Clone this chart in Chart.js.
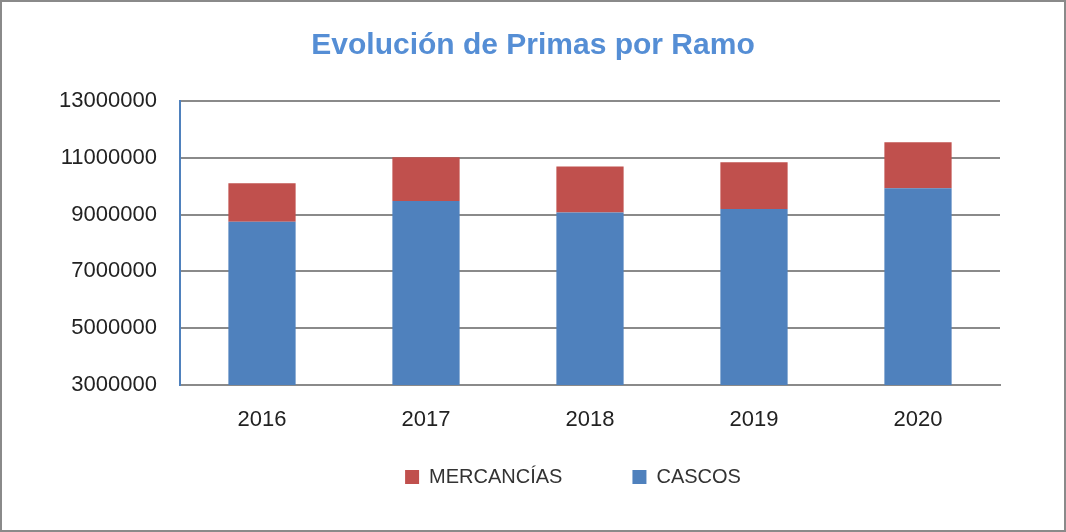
<!DOCTYPE html>
<html>
<head>
<meta charset="utf-8">
<script src="https://cdn.jsdelivr.net/npm/chart.js@4.4.0/dist/chart.umd.min.js"></script>
<style>
    body { margin: 0; background: #fff; }
    .frame {
        width: 1066px; height: 532px; box-sizing: border-box;
        border: 2px solid #8a8a8a; background: #fff;
    }
    canvas { display: block; }
</style>
</head>
<body>
<div class="frame">
    <canvas id="primasChart" width="1062" height="528"></canvas>
</div>
<script>
const years = ['2016', '2017', '2018', '2019', '2020'];
const cascos = [8750000, 9480000, 9070000, 9200000, 9930000];
const mercancias = [1350000, 1540000, 1620000, 1640000, 1620000];
const yTicks = [3000000, 5000000, 7000000, 9000000, 11000000, 13000000];

const sans = "'Liberation Sans Narrow', 'Arial Narrow', 'Liberation Sans', Arial, sans-serif";

// move title and legend to where the original has them
const boxShift = {
    id: 'boxShift',
    afterLayout(chart) {
        chart.titleBlock.left += 32;
        chart.titleBlock.right += 32;
        chart.legend.left += 72;
        chart.legend.right += 72;
        chart.legend.top -= 33;
        chart.legend.bottom -= 33;
    }
};

document.addEventListener('DOMContentLoaded', () => {
    const ctx = document.getElementById('primasChart').getContext('2d');
    new Chart(ctx, {
        type: 'bar',
        data: {
            labels: years,
            datasets: [{
                label: 'CASCOS',
                data: cascos,
                backgroundColor: '#4F81BD',
                barPercentage: 0.41,
                categoryPercentage: 1
            }, {
                label: 'MERCANCÍAS',
                data: mercancias,
                backgroundColor: '#C0504D',
                barPercentage: 0.41,
                categoryPercentage: 1
            }]
        },
        plugins: [boxShift],
        options: {
            responsive: false,
            animation: false,
            layout: {
                padding: { left: 0, right: 64, top: 0, bottom: 0 }
            },
            plugins: {
                title: {
                    display: true,
                    text: 'Evolución de Primas por Ramo',
                    color: '#558ED5',
                    font: { family: sans, size: 30, weight: 'bold' },
                    padding: { top: 26, bottom: 37 }
                },
                legend: {
                    position: 'bottom',
                    reverse: true,
                    labels: {
                        color: '#333',
                        font: { family: sans, size: 20 },
                        boxWidth: 14,
                        boxHeight: 14,
                        padding: 70
                    }
                },
                tooltip: { enabled: false }
            },
            scales: {
                x: {
                    stacked: true,
                    afterFit: (scale) => { scale.height = 45; },
                    grid: { display: false },
                    border: { color: '#8a8a8a', width: 2 },
                    ticks: {
                        color: '#222',
                        font: { family: sans, size: 22 },
                        padding: 14
                    }
                },
                y: {
                    stacked: true,
                    min: 3000000,
                    max: 13000000,
                    afterFit: (scale) => { scale.width = 178; },
                    afterBuildTicks: (scale) => {
                        scale.ticks = yTicks.map(v => ({ value: v }));
                    },
                    grid: { color: '#8a8a8a', lineWidth: 2, drawTicks: false },
                    border: { color: '#4F81BD', width: 2 },
                    ticks: {
                        color: '#222',
                        font: { family: sans, size: 22 },
                        padding: 23,
                        callback: (v) => String(v)
                    }
                }
            }
        }
    });
});
</script>
</body>
</html>
